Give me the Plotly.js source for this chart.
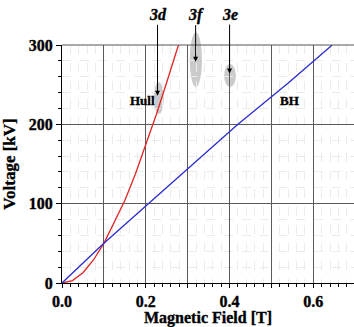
<!DOCTYPE html>
<html>
<head>
<meta charset="utf-8">
<script src="https://cdn.plot.ly/plotly-3.0.1.min.js"></script>
<style>
html,body{margin:0;padding:0;background:#fff;}#chart{width:354px;height:327px;}
.xtick text, .ytick text, .g-xtitle text, .g-ytitle text, .annotation-text {stroke:#000; stroke-width:0.35px;}
</style>
</head>
<body>
<div id="chart"></div>
<script>
// Hull cutoff curve (red)
const hullB = [0, 0.025, 0.05, 0.075, 0.1, 0.125, 0.15, 0.175, 0.2, 0.225, 0.25, 0.278];
const hullV = [0, 3, 13, 29, 50, 76, 104, 137, 174, 212, 253, 300];
// Buneman-Hartree line (blue)
const bhB = [0, 0.1, 0.2, 0.33, 0.42, 0.54, 0.645];
const bhV = [0, 50, 97, 158, 200, 252, 300];
// tick labels
const xTickVals = [0, 0.1, 0.2, 0.3, 0.4, 0.5, 0.6];
const xTickText = ['0.0', '', '0.2', '', '0.4', '', '0.6'];
const yTickVals = [0, 100, 200, 300];
const yTickText = ['0', '100', '200', '300'];
// operating points (highlight ellipses): label, B range, V range, arrow tip
const ptLabels = ['3d', '3f', '3e'];
const ptB0 = [0.219, 0.305, 0.387];
const ptB1 = [0.243, 0.334, 0.415];
const ptV0 = [213, 247, 247];
const ptV1 = [253, 316, 276];
const tipB = [0.228, 0.319, 0.400];
const tipV = [236, 279, 264];
const tipOffset = [-81, -47, -59];
// curve labels
const curveNames = ['Hull', 'BH'];
const curveLabB = [0.193, 0.544];
const curveLabV = [230, 230];

const yMax = 300;
const serif = 'Liberation Serif, Times New Roman, serif';
const bold = s => '<b>' + s + '</b>';

const traces = [
  {x: hullB, y: hullV, mode: 'lines', line: {color: '#e02424', width: 1.3}, hoverinfo: 'none'},
  {x: bhB, y: bhV, mode: 'lines', line: {color: '#2a2ad0', width: 1.3}, hoverinfo: 'none'}
];

const shapes = ptLabels.map((l, i) => ({
  type: 'circle', xref: 'x', yref: 'paper',
  x0: ptB0[i], x1: ptB1[i], y0: ptV0[i] / yMax, y1: ptV1[i] / yMax,
  fillcolor: '#cbcbcb', line: {width: 0}, layer: 'below'
}));
shapes.push({type: 'line', xref: 'paper', yref: 'paper', x0: 0, x1: 1, y0: 1, y1: 1,
  line: {color: '#555', width: 1}});

const annotations = ptLabels.map((l, i) => ({
  x: tipB[i], y: tipV[i], xref: 'x', yref: 'y',
  text: '<b><i>' + l + '</i></b>', showarrow: true,
  axref: 'pixel', ayref: 'pixel', ax: 0, ay: tipOffset[i],
  arrowhead: 2, arrowsize: 1, arrowwidth: 1, arrowcolor: '#000', standoff: 0,
  font: {family: serif, size: 16, color: '#000'}
})).concat(curveNames.map((n, i) => ({
  x: curveLabB[i], y: curveLabV[i], xref: 'x', yref: 'y', showarrow: false,
  text: bold(n), font: {family: serif, size: 13, color: '#000'}
})));

const layout = {
  width: 354, height: 327,
  margin: {l: 62, r: 0, t: 45, b: 44},
  paper_bgcolor: '#fff', plot_bgcolor: '#fff',
  showlegend: false,
  xaxis: {
    range: [0, 0.697], tickmode: 'array', tickvals: xTickVals, ticktext: xTickText.map(bold),
    ticks: 'outside', ticklen: 4, tickcolor: '#000',
    showline: true, linecolor: '#000', linewidth: 1, zeroline: false,
    showgrid: true, gridcolor: '#5a5a5a', gridwidth: 1,
    minor: {dtick: 0.02, ticks: 'outside', ticklen: 3, tickcolor: '#000',
            showgrid: true, gridcolor: '#ebebeb', griddash: 'dash', gridwidth: 1},
    tickfont: {family: serif, size: 16, color: '#000'},
    title: {text: '<b>Magnetic Field [T]</b>', font: {family: serif, size: 16, color: '#000'}, standoff: 5}
  },
  yaxis: {
    range: [0, yMax], tickmode: 'array', tickvals: yTickVals, ticktext: yTickText.map(bold),
    ticks: 'outside', ticklen: 5, tickcolor: '#000',
    showline: true, linecolor: '#000', linewidth: 1, zeroline: false,
    showgrid: true, gridcolor: '#5a5a5a', gridwidth: 1,
    minor: {dtick: 20, ticks: 'outside', ticklen: 3, tickcolor: '#000',
            showgrid: true, gridcolor: '#ebebeb', griddash: 'dash', gridwidth: 1},
    tickfont: {family: serif, size: 16, color: '#000'},
    title: {text: '<b>Voltage [kV]</b>', font: {family: serif, size: 17, color: '#000'}, standoff: 8}
  },
  shapes: shapes,
  annotations: annotations
};

Plotly.newPlot('chart', traces, layout, {staticPlot: true, displayModeBar: false});
</script>
</body>
</html>
